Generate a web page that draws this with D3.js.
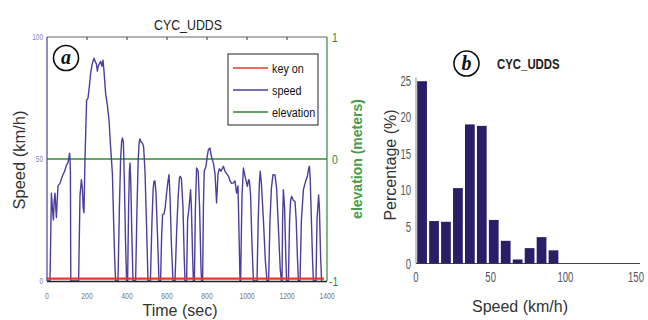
<!DOCTYPE html>
<html><head><meta charset="utf-8">
<script src="https://cdn.jsdelivr.net/npm/d3@7"></script>
<style>
html,body{margin:0;padding:0;background:#fff;}
svg{display:block;}
text{font-family:'Liberation Sans',Arial,sans-serif;}
</style></head>
<body>
<svg id="chart" width="648" height="320"></svg>
<script>
// ---------- data ----------
const chartTitle = "CYC_UDDS";
const timeTicks = [0,200,400,600,800,1000,1200,1400];
const speedTicks = [0,50,100];
const elevationTicks = [-1,0,1];
const legendLabels = ["key on","speed","elevation"];
const keyOnSpeed = 1;          // key-on trace drawn on speed axis
const elevationLevel = 0;      // meters
// speed trace [time (s), speed (km/h)]
const speedTrace = [[0,0],[15,0],[22,36],[27,30],[32,25],[36,33],[40,36],[44,30],[47,26],[51,33],[55,39],[65,40],[77,43],[88,45],[98,47.6],[105,48.5],[110,51],[113,52.4],[115,50],[117,45],[119,0],[158,0],[165,35],[172,41.5],[177,38],[181,30],[185,28],[190,50],[198,74],[205,75],[212,80],[218,85],[226,89],[235,91.3],[241,90],[247,89],[252,86],[255,87.8],[262,89],[268,90],[275,88],[280,90.5],[285,86],[293,77],[302,72],[310,66],[318,55],[327,44],[333,25],[338,10],[343,0],[355,0],[362,30],[368,50],[373,57],[377,58.6],[382,57],[387,40],[393,15],[398,0],[403,0],[408,30],[412,45],[415,48.3],[419,40],[424,20],[430,0],[443,0],[450,30],[456,50],[461,57],[465,58.2],[470,57],[477,56.5],[483,55],[490,45],[497,25],[505,0],[517,0],[525,25],[531,38],[535,40.8],[540,41],[545,36],[552,20],[560,0],[568,0],[573,18],[578,27.2],[585,27.5],[591,30],[598,36],[605,41],[610,43.6],[615,35],[622,15],[630,0],[640,0],[648,20],[656,35],[662,42],[666,42.9],[672,42],[680,30],[686,10],[690,0],[698,0],[703,25],[710,30],[718,37.4],[722,30],[728,10],[732,0],[737,0],[742,30],[748,46.3],[756,45],[763,30],[770,5],[773,0],[778,0],[782,30],[786,45],[795,47],[801,51],[807,53.8],[815,54.5],[822,51],[832,48.3],[840,44],[848,32],[855,44],[862,46],[870,45],[876,46],[882,47],[890,45],[898,44],[907,43],[915,41],[923,40],[932,40.2],[940,41],[948,36],[955,39],[960,20],[965,0],[968,0],[975,35],[982,46.3],[990,43],[1002,38.8],[1008,41.5],[1012,41],[1018,35],[1025,15],[1032,0],[1050,0],[1056,25],[1062,40],[1066,45],[1072,40],[1082,25],[1092,8],[1100,0],[1108,0],[1115,25],[1122,38],[1130,43.6],[1140,43.5],[1148,38],[1158,20],[1166,5],[1172,0],[1175,0],[1178,25],[1182,37.4],[1188,30],[1194,10],[1198,0],[1207,0],[1213,25],[1218,33],[1223,34.7],[1232,33],[1240,32.6],[1246,25],[1252,10],[1257,0],[1265,0],[1272,25],[1282,37.4],[1290,40],[1298,42],[1302,42.9],[1308,46],[1312,47],[1316,42],[1322,25],[1328,8],[1332,0],[1345,0],[1350,25],[1358,35.3],[1362,30],[1368,10],[1373,0]];

// histogram
const binStart = [0,8,16,24,32,40,48,56,64,72,80,88];
const binWidth = 8;
const binPercent = [24.9,5.8,5.7,10.3,19.0,18.8,5.95,3.1,0.55,2.1,3.6,1.8];
const histXTicks = [0,50,100,150];
const histYTicks = [0,5,10,15,20,25];

// ---------- drawing ----------
const svg = d3.select("#chart");
const purple = "#4b3f9e", red = "#e8362a", green = "#2f8a3a";

// condensed text helper (horizontal squeeze)
function ntext(g, x, y, str, size, opts={}) {
  const sx = opts.sx || 0.78;
  const t = g.append("text")
    .attr("transform", `translate(${x},${y}) scale(${sx},1)`)
    .attr("text-anchor", opts.anchor || "start")
    .attr("font-size", size)
    .attr("fill", opts.fill || "#222")
    .text(str);
  if (opts.bold) t.attr("font-weight","bold");
  return t;
}

// left panel
const L = {x0:47, x1:327, y0:281, y1:37};
const x = d3.scaleLinear().domain([0,1400]).range([L.x0, L.x1]);
const y = d3.scaleLinear().domain([0,100]).range([L.y0, L.y1]);
const yR = d3.scaleLinear().domain([-1,1]).range([L.y0, L.y1]);

const gL = svg.append("g");
gL.append("line").attr("x1",L.x0).attr("x2",L.x1).attr("y1",L.y1).attr("y2",L.y1).attr("stroke","#666").attr("stroke-width",1);
gL.selectAll(".tt").data(timeTicks.slice(1,-1)).enter().append("line")
  .attr("x1",d=>x(d)).attr("x2",d=>x(d)).attr("y1",L.y1).attr("y2",L.y1+3).attr("stroke","#333");

// elevation
gL.append("line").attr("x1",L.x0).attr("x2",L.x1).attr("y1",yR(elevationLevel)).attr("y2",yR(elevationLevel))
  .attr("stroke",green).attr("stroke-width",1.6);
// speed
const line = d3.line().x(d=>x(d[0])).y(d=>y(d[1]));
gL.append("path").datum(speedTrace).attr("d",line).attr("fill","none").attr("stroke",purple).attr("stroke-width",1.4).attr("stroke-linejoin","round");
// key on
gL.append("line").attr("x1",L.x0).attr("x2",L.x1-3).attr("y1",y(keyOnSpeed)).attr("y2",y(keyOnSpeed))
  .attr("stroke",red).attr("stroke-width",2.2);

// axes lines
gL.append("line").attr("x1",L.x0).attr("x2",L.x0).attr("y1",L.y1).attr("y2",L.y0).attr("stroke",purple).attr("stroke-width",1.2);
gL.append("line").attr("x1",L.x1).attr("x2",L.x1).attr("y1",L.y1).attr("y2",L.y0).attr("stroke",green).attr("stroke-width",1.2);
gL.append("line").attr("x1",L.x0).attr("x2",L.x1).attr("y1",L.y0+0.5).attr("y2",L.y0+0.5).attr("stroke","#222").attr("stroke-width",1.5);

// bottom tick labels
timeTicks.forEach(d=>ntext(gL, x(d), L.y0+18, d, 9.5, {anchor:"middle", fill:"#777", sx:0.72}));
// left tick labels
speedTicks.forEach(d=>ntext(gL, L.x0-4, y(d)+3, d, 9, {anchor:"end", fill:"#8a80b8", sx:0.72}));
// right tick labels
elevationTicks.forEach(d=>ntext(gL, d<0?L.x1+2:L.x1+5, yR(d)+5, d, 13, {anchor:"start", fill:green, sx:0.8}));

// titles
ntext(gL, 188, 30, chartTitle, 15.5, {anchor:"middle", fill:"#222", sx:0.8});
gL.append("text").attr("transform","translate(25,160) rotate(-90)").attr("text-anchor","middle").attr("font-size",16.5).attr("fill","#333").text("Speed (km/h)");
gL.append("text").attr("x",180).attr("y",316).attr("text-anchor","middle").attr("font-size",16).attr("fill","#333").text("Time (sec)");
gL.append("text").attr("transform","translate(362,159) rotate(-90)").attr("text-anchor","middle").attr("font-size",14).attr("font-weight","bold").attr("fill","#4a9a4a").text("elevation (meters)");

// circled a
gL.append("circle").attr("cx",66).attr("cy",58).attr("r",12.5).attr("fill","#fff").attr("stroke","#111").attr("stroke-width",1.6);
gL.append("text").attr("x",66).attr("y",64).attr("text-anchor","middle").attr("font-size",20).attr("font-style","italic").attr("font-weight","bold")
  .style("font-family","'Liberation Serif','DejaVu Serif',serif").attr("fill","#111").text("a");

// legend
const lg = gL.append("g");
lg.append("rect").attr("x",228).attr("y",54).attr("width",90).attr("height",71).attr("fill","#fff").attr("stroke","#222").attr("stroke-width",1);
const legColors = [red,purple,green];
legendLabels.forEach((lab,i)=>{
  const yy = 68 + i*22;
  lg.append("line").attr("x1",233).attr("x2",268).attr("y1",yy).attr("y2",yy).attr("stroke",legColors[i]).attr("stroke-width",1.6);
  ntext(lg, 272, yy+4.5, lab, 13.5, {fill:"#111", sx:0.8});
});

// right panel: histogram
const R = {x0:416, x1:640, y0:263.5, y1:80.5};
const hx = d3.scaleLinear().domain([0,150]).range([R.x0, R.x1]);
const hy = d3.scaleLinear().domain([0,25]).range([R.y0, R.y1]);
const gR = svg.append("g");
gR.append("line").attr("x1",R.x0).attr("x2",R.x0).attr("y1",R.y1-3).attr("y2",R.y0).attr("stroke","#888").attr("stroke-width",1);
gR.append("line").attr("x1",R.x0).attr("x2",R.x1).attr("y1",R.y0).attr("y2",R.y0).attr("stroke","#444").attr("stroke-width",1.2);
gR.selectAll(".bar").data(binStart).enter().append("rect")
  .attr("x",(d)=>hx(d)+1.2)
  .attr("width",(d)=>hx(d+binWidth)-hx(d)-2.2)
  .attr("y",(d,i)=>hy(binPercent[i]))
  .attr("height",(d,i)=>R.y0-hy(binPercent[i]))
  .attr("fill","#2a1f66");
histXTicks.forEach(d=>ntext(gR, Math.min(hx(d), 636), R.y0+18, d, 14, {anchor:"middle", fill:"#555", sx:0.68}));
histYTicks.forEach(d=>ntext(gR, R.x0-5, hy(d)+5, d, 14, {anchor:"end", fill:"#555", sx:0.68}));
gR.append("text").attr("transform","translate(396,165) rotate(-90)").attr("text-anchor","middle").attr("font-size",16).attr("fill","#333").text("Percentage (%)");
gR.append("text").attr("x",520).attr("y",312).attr("text-anchor","middle").attr("font-size",16).attr("fill","#333").text("Speed (km/h)");
gR.append("circle").attr("cx",466.5).attr("cy",63.5).attr("r",12.5).attr("fill","#fff").attr("stroke","#111").attr("stroke-width",1.6);
gR.append("text").attr("x",466.5).attr("y",70).attr("text-anchor","middle").attr("font-size",20).attr("font-style","italic").attr("font-weight","bold")
  .style("font-family","'Liberation Serif','DejaVu Serif',serif").attr("fill","#111").text("b");
ntext(gR, 497, 69, chartTitle, 15, {bold:true, fill:"#222", sx:0.76});
</script>
</body></html>
